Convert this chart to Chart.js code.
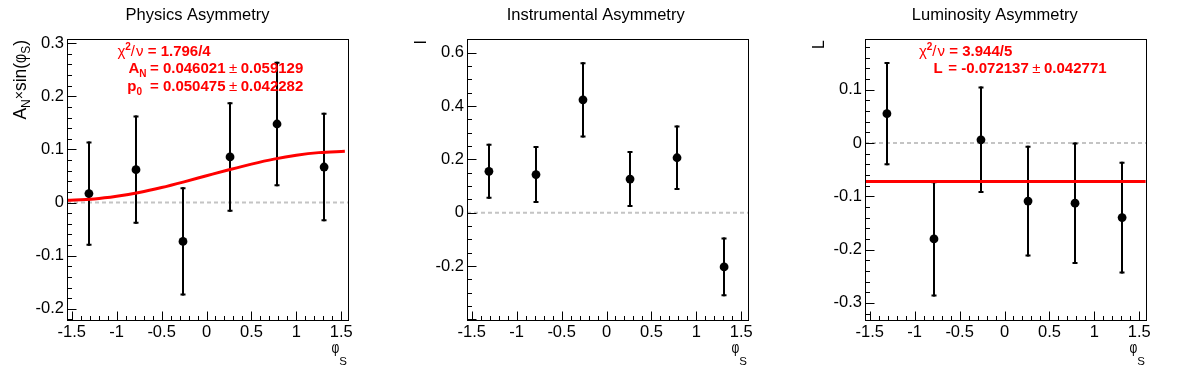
<!DOCTYPE html>
<html><head><meta charset="utf-8">
<script src="https://cdn.jsdelivr.net/npm/chart.js@4.4.0/dist/chart.umd.min.js"></script>
<style>
html,body{margin:0;padding:0;background:#fff;}
#wrap{position:relative;width:1196px;height:372px;overflow:hidden;background:#fff;}
canvas{position:absolute;top:0;}
</style></head><body>
<div id="wrap">
<canvas id="c1" width="398" height="372" style="left:0px"></canvas>
<canvas id="c2" width="398" height="372" style="left:398px"></canvas>
<canvas id="c3" width="400" height="372" style="left:796px"></canvas>
</div>
<script>
// ---------------- data ----------------
const phiS = [-1.309, -0.785, -0.262, 0.262, 0.785, 1.309];
const xTickValues = [-1.5, -1, -0.5, 0, 0.5, 1, 1.5];
const xTickLabels = ["-1.5", "-1", "-0.5", "0", "0.5", "1", "1.5"];

const physValues = [0.017, 0.062, -0.073, 0.086, 0.148, 0.067];
const physErrors = [0.098, 0.102, 0.102, 0.103, 0.117, 0.102];
const physYTickValues = [-0.2, -0.1, 0, 0.1, 0.2, 0.3];
const physYTickLabels = ["-0.2", "-0.1", "0", "0.1", "0.2", "0.3"];
const physFitX = [-1.571, -1.25, -1.0, -0.75, -0.5, -0.25, 0, 0.25, 0.5, 0.75, 1.0, 1.25, 1.54];
const physFitY = [0.0045, 0.0068, 0.0118, 0.0191, 0.0284, 0.0391, 0.0505, 0.0618, 0.0725, 0.0819, 0.0892, 0.0941, 0.0965];
const physChi = "= 1.796/4";
const physAN = ["= 0.046021", "0.059129"];
const physP0 = ["= 0.050475", "0.042282"];

const instValues = [0.155, 0.143, 0.423, 0.126, 0.206, -0.203];
const instErrors = [0.103, 0.107, 0.141, 0.105, 0.121, 0.110];
const instYTickValues = [-0.2, 0, 0.2, 0.4, 0.6];
const instYTickLabels = ["-0.2", "0", "0.2", "0.4", "0.6"];

const lumiValues = [0.055, -0.180, 0.006, -0.109, -0.113, -0.140];
const lumiErrors = [0.097, 0.108, 0.100, 0.104, 0.114, 0.105];
const lumiYTickValues = [-0.3, -0.2, -0.1, 0, 0.1];
const lumiYTickLabels = ["-0.3", "-0.2", "-0.1", "0", "0.1"];
const lumiFitX = [-1.5708, 1.5708];
const lumiFitY = [-0.072137, -0.072137];
const lumiChi = "= 3.944/5";
const lumiL = ["= -0.072137", "0.042771"];

// ---------------- helpers ----------------
const FONT = "'Liberation Sans', Arial, Helvetica, sans-serif";
Chart.defaults.font.family = FONT;
Chart.defaults.color = '#000';

function measureParts(ctx, parts) {
  let w = 0;
  for (const p of parts) {
    ctx.font = p.f + ' ' + FONT;
    w += ctx.measureText(p.t).width * (p.sx || 1) + (p.gap || 0);
  }
  return w;
}
function drawParts(ctx, parts, x, y, color) {
  ctx.fillStyle = color;
  ctx.textAlign = 'left';
  ctx.textBaseline = 'alphabetic';
  for (const p of parts) {
    ctx.font = p.f + ' ' + FONT;
    const w = ctx.measureText(p.t).width * (p.sx || 1);
    ctx.save();
    ctx.translate(x, y + (p.dy || 0));
    ctx.scale(p.sx || 1, 1);
    ctx.fillText(p.t, 0, 0);
    ctx.restore();
    x += w + (p.gap || 0);
  }
  return x;
}

function makePlugin(cfg) {
  return {
    id: 'rootPanel',
    beforeDatasetsDraw(chart) {
      const ctx = chart.ctx, a = chart.chartArea;
      const xs = chart.scales.x, ys = chart.scales.y;
      ctx.save();
      ctx.beginPath(); ctx.rect(a.left, a.top, a.right - a.left, a.bottom - a.top); ctx.clip();
      // zero reference line
      const y0 = ys.getPixelForValue(0);
      ctx.strokeStyle = '#c4c4c4'; ctx.lineWidth = 2; ctx.setLineDash([4, 3]);
      ctx.beginPath(); ctx.moveTo(a.left, y0); ctx.lineTo(a.right, y0); ctx.stroke();
      ctx.setLineDash([]);
      // error bars
      ctx.strokeStyle = '#000'; ctx.lineWidth = 2;
      cfg.values.forEach((v, i) => {
        const px = Math.round(xs.getPixelForValue(cfg.xs[i]));
        const yt = ys.getPixelForValue(v + cfg.errors[i]);
        const yb = ys.getPixelForValue(v - cfg.errors[i]);
        ctx.beginPath(); ctx.moveTo(px, yt); ctx.lineTo(px, yb); ctx.stroke();
        ctx.beginPath();
        ctx.moveTo(px - 2.5, yt + 1); ctx.lineTo(px + 2.5, yt + 1);
        ctx.moveTo(px - 2.5, yb - 1); ctx.lineTo(px + 2.5, yb - 1);
        ctx.stroke();
      });
      ctx.restore();
    },
    afterDraw(chart) {
      const ctx = chart.ctx, a = chart.chartArea;
      const xs = chart.scales.x, ys = chart.scales.y;
      ctx.save();
      // frame
      const L = Math.round(a.left) + 0.5, T = Math.round(a.top) + 0.5;
      const R = Math.round(a.right) + 0.5, B = Math.round(a.bottom) + 0.5;
      ctx.strokeStyle = '#000'; ctx.lineWidth = 1;
      ctx.strokeRect(L, T, R - L, B - T);
      // ticks
      ctx.beginPath();
      const eps = 1e-6;
      for (let k = -20; k <= 20; k++) {
        const v = k * 0.1;
        if (v < xs.min - eps || v > xs.max + eps) continue;
        const major = Math.abs(v * 2 - Math.round(v * 2)) < eps;
        const px = Math.round(xs.getPixelForValue(v)) + 0.5;
        ctx.moveTo(px, B); ctx.lineTo(px, B - (major ? 9 : 4.5));
      }
      const st = cfg.yMinor, ratio = cfg.yMajor / cfg.yMinor;
      for (let k = -40; k <= 40; k++) {
        const v = k * st;
        if (v < ys.min - eps || v > ys.max + eps) continue;
        const major = Math.abs(k / ratio - Math.round(k / ratio)) < eps;
        const py = Math.round(ys.getPixelForValue(v)) + 0.5;
        ctx.moveTo(L, py); ctx.lineTo(L + (major ? 9 : 4.5), py);
      }
      ctx.stroke();
      // title
      ctx.fillStyle = '#000';
      ctx.font = '16.5px ' + FONT;
      ctx.textAlign = 'center'; ctx.textBaseline = 'alphabetic';
      ctx.fillText(cfg.title, cfg.titleX, 20);
      // x axis title  phi_S
      const xt = [{ t: 'φ', f: '16px', sx: 0.75 }, { t: 'S', f: '11.5px', dy: 12 }];
      const xw = measureParts(ctx, xt);
      drawParts(ctx, xt, a.right - 1 - xw, 353, '#000');
      // y axis title (rotated)
      const yw = measureParts(ctx, cfg.yTitle);
      ctx.save();
      ctx.translate(a.left - 41, a.top + 1 + yw);
      ctx.rotate(-Math.PI / 2);
      drawParts(ctx, cfg.yTitle, 0, 0, '#000');
      ctx.restore();
      // statistics box text
      (cfg.stats || []).forEach(line => {
        const lw = measureParts(ctx, line.label);
        drawParts(ctx, line.label, line.labelEnd - lw, line.y, '#ff0000');
        ctx.fillStyle = '#ff0000'; ctx.textAlign = 'left';
        ctx.font = 'bold 15px ' + FONT;
        ctx.fillText(line.text[0], line.eqX, line.y);
        if (line.text.length > 1) {
          let x = line.eqX + ctx.measureText(line.text[0]).width + 3.5;
          ctx.font = '15px ' + FONT;
          ctx.fillText('±', x, line.y);
          x += ctx.measureText('±').width + 3.5;
          ctx.font = 'bold 15px ' + FONT;
          ctx.fillText(line.text[1], x, line.y);
        }
      });
      ctx.restore();
    }
  };
}

const chiLabel = [{ t: 'χ', f: '15px' }, { t: '2', f: 'bold 10px', dy: -6 }, { t: '/', f: '15px', gap: 1 }, { t: 'ν', f: '15px' }];

function makeChart(id, p) {
  const datasets = [];
  if (p.fitX) {
    datasets.push({
      data: p.fitX.map((x, i) => ({ x: x, y: p.fitY[i] })),
      showLine: true, borderColor: '#ff0000', borderWidth: 3, pointRadius: 0,
      cubicInterpolationMode: 'monotone', fill: false
    });
  }
  datasets.push({
    data: phiS.map((x, i) => ({ x: x, y: p.values[i] })),
    showLine: false, pointRadius: 4.4, pointBackgroundColor: '#000', borderColor: '#000', borderWidth: 0
  });
  return new Chart(document.getElementById(id), {
    type: 'scatter',
    data: { datasets },
    options: {
      responsive: false, animation: false, devicePixelRatio: 1,
      layout: { padding: { left: 0, top: 39, right: p.padRight, bottom: 0 } },
      plugins: { legend: { display: false }, tooltip: { enabled: false }, title: { display: false } },
      scales: {
        x: {
          type: 'linear', min: -1.553, max: 1.575,
          grid: { display: false, drawTicks: false }, border: { display: false },
          afterBuildTicks: s => { s.ticks = xTickValues.map(v => ({ value: v })); },
          afterFit: s => { s.height = 52; s.paddingLeft = 0; s.paddingRight = 0; },
          ticks: { padding: 3, autoSkip: false, maxRotation: 0, minRotation: 0, color: '#000',
                   font: { size: 16.5 }, callback: (v, i) => xTickLabels[i] }
        },
        y: {
          type: 'linear', min: p.yMin, max: p.yMax,
          grid: { display: false, drawTicks: false }, border: { display: false },
          afterBuildTicks: s => { s.ticks = p.yTicks.map(v => ({ value: v })); },
          afterFit: s => { s.width = p.leftW; s.paddingTop = 0; s.paddingBottom = 0; },
          ticks: { padding: 3, autoSkip: false, color: '#000',
                   font: { size: 16.5 }, callback: (v, i) => p.yLabels[i] }
        }
      }
    },
    plugins: [makePlugin({
      xs: phiS, values: p.values, errors: p.errors,
      yMajor: p.yMajor, yMinor: p.yMinor,
      title: p.title, titleX: p.titleX, yTitle: p.yTitle, stats: p.stats
    })]
  });
}

makeChart('c1', {
  values: physValues, errors: physErrors, fitX: physFitX, fitY: physFitY,
  yMin: -0.221, yMax: 0.308, yTicks: physYTickValues, yLabels: physYTickLabels,
  yMajor: 0.1, yMinor: 0.02, leftW: 67, padRight: 50,
  title: 'Physics Asymmetry', titleX: 197.5,
  yTitle: [{ t: 'A', f: '17.5px' }, { t: 'N', f: '12px', dy: 4 }, { t: '×', f: '14px', dy: -2 },
           { t: 'sin(', f: '17.5px' }, { t: 'φ', f: '17.5px', sx: 0.8 }, { t: 'S', f: '12px', dy: 4 }, { t: ')', f: '17.5px' }],
  stats: [
    { y: 56, labelEnd: 143.5, eqX: 147.7, label: chiLabel, text: [physChi] },
    { y: 73, labelEnd: 146.5, eqX: 150, label: [{ t: 'A', f: 'bold 15px' }, { t: 'N', f: 'bold 10px', dy: 4 }], text: physAN },
    { y: 90.5, labelEnd: 142, eqX: 150, label: [{ t: 'p', f: 'bold 15px' }, { t: '0', f: 'bold 10px', dy: 4 }], text: physP0 }
  ]
});

makeChart('c2', {
  values: instValues, errors: instErrors,
  yMin: -0.402, yMax: 0.651, yTicks: instYTickValues, yLabels: instYTickLabels,
  yMajor: 0.2, yMinor: 0.05, leftW: 69, padRight: 48,
  title: 'Instrumental Asymmetry', titleX: 197.7,
  yTitle: [{ t: 'I', f: '16px' }],
  stats: []
});

makeChart('c3', {
  values: lumiValues, errors: lumiErrors, fitX: lumiFitX, fitY: lumiFitY,
  yMin: -0.332, yMax: 0.195, yTicks: lumiYTickValues, yLabels: lumiYTickLabels,
  yMajor: 0.1, yMinor: 0.02, leftW: 69, padRight: 50,
  title: 'Luminosity Asymmetry', titleX: 198.8,
  yTitle: [{ t: 'L', f: '16px' }],
  stats: [
    { y: 56, labelEnd: 149, eqX: 153.3, label: chiLabel, text: [lumiChi] },
    { y: 73, labelEnd: 146.7, eqX: 152.3, label: [{ t: 'L', f: 'bold 15px' }], text: lumiL }
  ]
});
</script>
</body></html>
